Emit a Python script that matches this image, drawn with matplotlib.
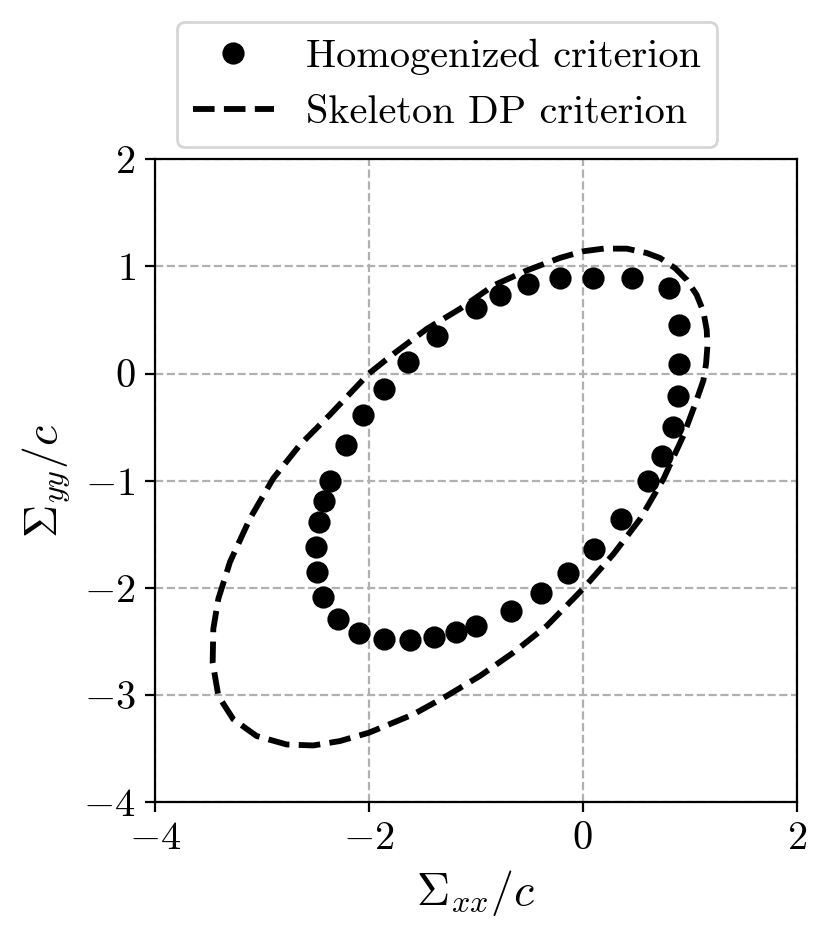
import matplotlib
matplotlib.use("Agg")
import matplotlib.pyplot as plt
import numpy as np

plt.rcParams['font.family'] = 'serif'
plt.rcParams['font.serif'] = ['cmr10']
plt.rcParams['mathtext.fontset'] = 'cm'
plt.rcParams['axes.formatter.use_mathtext'] = True
plt.rcParams['axes.unicode_minus'] = True

# homogenized criterion points (Sigma_xx/c, Sigma_yy/c)
homog_x = [0.093, 0.457, 0.81, 0.90, 0.90, 0.893, 0.848, 0.744, 0.609, 0.356,
           0.104, -0.138, -0.394, -0.675, -1.0, -1.187, -1.394, -1.616, -1.858, -2.09,
           -2.291, -2.426, -2.484, -2.491, -2.464, -2.422, -2.363, -2.218, -2.052, -1.862,
           -1.637, -1.363, -1.003, -0.772, -0.509, -0.214]
homog_y = [0.894, 0.89, 0.80, 0.457, 0.093, -0.211, -0.50, -0.766, -1.0, -1.359,
           -1.64, -1.858, -2.048, -2.217, -2.357, -2.413, -2.46, -2.485, -2.479, -2.423,
           -2.289, -2.089, -1.852, -1.618, -1.39, -1.187, -1.0, -0.668, -0.388, -0.14,
           0.109, 0.351, 0.609, 0.736, 0.838, 0.894]

# skeleton Drucker-Prager criterion (closed curve)
dp_x = [0.193, 0.0, -0.212, -0.522, -0.834, -1.145, -1.456, -1.767, -2.0, -2.364,
        -2.645, -2.894, -3.112, -3.299, -3.408, -3.455, -3.461, -3.408, -3.268, -3.05,
        -2.769, -2.52, -2.271, -2.0, -1.583, -1.271, -0.96, -0.648, -0.336, 0.0,
        0.287, 0.536, 0.754, 0.941, 1.06, 1.128, 1.153, 1.165, 1.159, 1.128,
        1.065, 0.972, 0.863, 0.723, 0.598, 0.411, 0.193]
dp_y = [1.166, 1.141, 1.08, 0.963, 0.823, 0.606, 0.419, 0.186, 0.0, -0.384,
        -0.666, -0.978, -1.353, -1.759, -2.103, -2.384, -2.697, -3.009, -3.228, -3.384,
        -3.463, -3.472, -3.431, -3.353, -3.181, -3.009, -2.822, -2.604, -2.355, -2.012,
        -1.685, -1.358, -0.984, -0.579, -0.26, -0.063, 0.094, 0.25, 0.406, 0.578,
        0.734, 0.875, 0.984, 1.078, 1.125, 1.166, 1.166]

fig = plt.figure(figsize=(829 / 200, 941 / 200), dpi=200)
ax = fig.add_axes([0.187, 0.1477, 0.774, 0.683])

ax.plot(homog_x, homog_y, 'o', color='black', markersize=7, label='Homogenized criterion')
ax.plot(dp_x, dp_y, '--', color='black', linewidth=2.1, label='Skeleton DP criterion')

ax.set_xlim(-4, 2)
ax.set_ylim(-4, 2)
ax.set_xticks([-4, -2, 0, 2])
ax.set_yticks([-4, -3, -2, -1, 0, 1, 2])
ax.tick_params(labelsize=14.5)
ax.grid(True, linestyle='--', color='#b0b0b0', linewidth=0.8)
ax.set_axisbelow(True)

ax.set_xlabel(r'$\Sigma_{xx}/c$', fontsize=16.5)
ax.set_ylabel(r'$\Sigma_{yy}/c$', fontsize=16.5)

ax.legend(loc='lower center', bbox_to_anchor=(0.455, 1.019), borderaxespad=0,
          fontsize=14.5, handlelength=2.0)

fig.savefig('out.png', dpi=200)
